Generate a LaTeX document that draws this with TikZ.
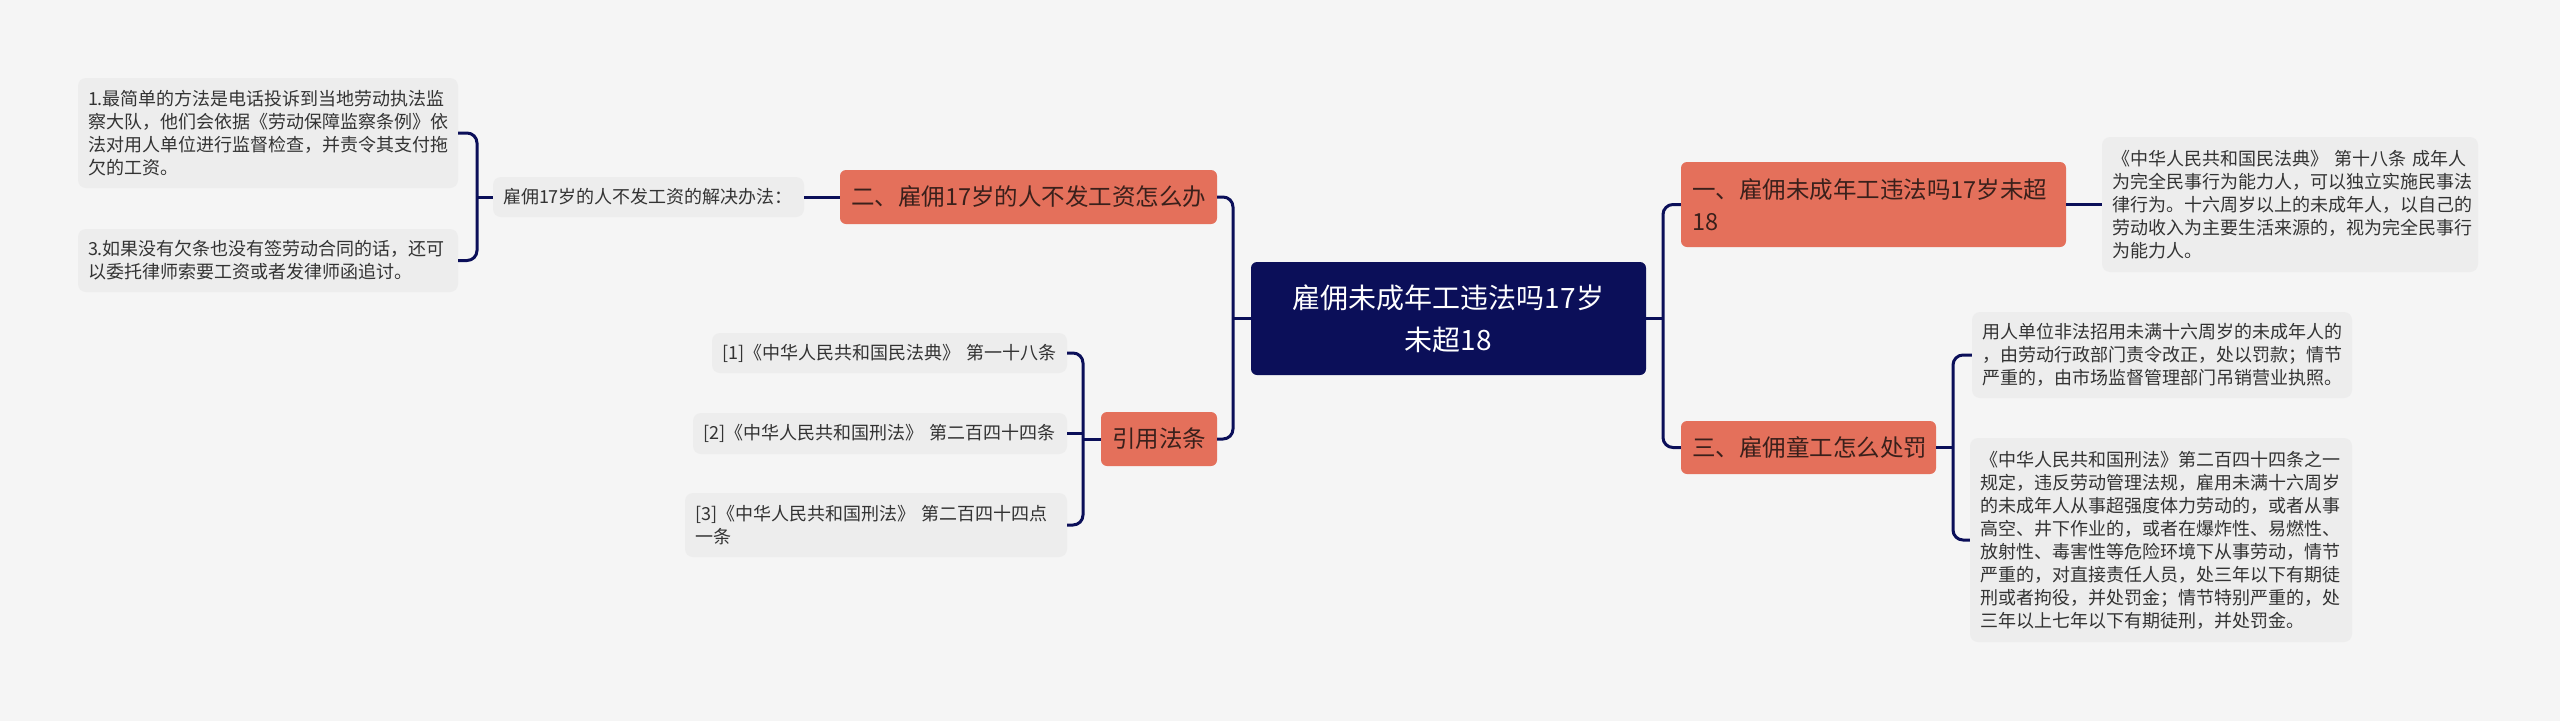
\documentclass[tikz,border=0pt]{standalone}
\usepackage{fontspec}
\setmainfont{Noto Sans CJK SC}
\definecolor{bgc}{HTML}{F5F5F5}
\definecolor{navy}{HTML}{0B0F59}
\definecolor{orangec}{HTML}{E4705B}
\definecolor{leafbg}{HTML}{EDEDED}
\definecolor{leaftext}{HTML}{333333}
\definecolor{branchtext}{HTML}{3A201B}
\begin{document}
\begin{tikzpicture}[x=1pt,y=-1pt,
  conn/.style={draw=navy, line width=3pt, rounded corners=10pt},
  leaf/.style={fill=leafbg, rounded corners=8pt, text=leaftext, font=\fontsize{18pt}{23pt}\selectfont, align=left, inner xsep=10pt, inner ysep=0pt},
  branch/.style={fill=orangec, rounded corners=6pt, text=branchtext, font=\fontsize{23.5pt}{32pt}\selectfont, align=left, inner xsep=11pt, inner ysep=0pt},
  root/.style={fill=navy, rounded corners=6pt, text=white, font=\fontsize{28pt}{42pt}\selectfont, align=center, inner sep=0pt}]
\fill[bgc] (0,0) rectangle (2560,721);
\useasboundingbox (0,0) rectangle (2560,721);

% root
\node[root, minimum width=395pt, minimum height=113pt] (c) at (1448.5,318.5) {雇佣未成年工违法吗17岁\\未超18};

% branches
\node[branch, minimum width=385pt, minimum height=85pt, text width=363pt] (b1) at (1873.5,204.5) {一、雇佣未成年工违法吗17岁未超\\18};
\node[branch, minimum width=377pt, minimum height=54pt, text width=355pt] (b2) at (1028.5,197) {二、雇佣17岁的人不发工资怎么办};
\node[branch, minimum width=255pt, minimum height=53pt, text width=233pt] (b3) at (1808.5,447.5) {三、雇佣童工怎么处罚};
\node[branch, minimum width=116pt, minimum height=54pt, text width=94pt] (b4) at (1159,439) {引用法条};

% left leaves
\node[leaf, minimum height=40pt, text width=291pt] (l1) at (648.5,197) {雇佣17岁的人不发工资的解决办法：};
\node[leaf, minimum height=110pt, text width=360pt] (l11) at (268,133) {1.最简单的方法是电话投诉到当地劳动执法监\\察大队，他们会依据《劳动保障监察条例》依\\法对用人单位进行监督检查，并责令其支付拖\\欠的工资。};
\node[leaf, minimum height=63pt, text width=360pt] (l12) at (268,260.5) {3.如果没有欠条也没有签劳动合同的话，还可\\以委托律师索要工资或者发律师函追讨。};

\node[leaf, minimum height=40pt, text width=335pt] (c1) at (889.5,353) {[1]《中华人民共和国民法典》 第一十八条};
\node[leaf, minimum height=41pt, text width=354pt] (c2) at (880,433.5) {[2]《中华人民共和国刑法》 第二百四十四条};
\node[leaf, minimum height=64pt, text width=362pt] (c3) at (876,525) {[3]《中华人民共和国刑法》 第二百四十四点\\一条};

% right leaves
\node[leaf, minimum height=135pt, text width=356pt] (r1) at (2290,204.5) {《中华人民共和国民法典》 第十八条 成年人\\为完全民事行为能力人，可以独立实施民事法\\律行为。十六周岁以上的未成年人，以自己的\\劳动收入为主要生活来源的，视为完全民事行\\为能力人。};
\node[leaf, minimum height=86pt, text width=360pt] (r31) at (2162,355) {用人单位非法招用未满十六周岁的未成年人的\\，由劳动行政部门责令改正，处以罚款；情节\\严重的，由市场监督管理部门吊销营业执照。};
\node[leaf, minimum height=204pt, text width=362pt] (r32) at (2161,540) {《中华人民共和国刑法》第二百四十四条之一\\规定，违反劳动管理法规，雇用未满十六周岁\\的未成年人从事超强度体力劳动的，或者从事\\高空、井下作业的，或者在爆炸性、易燃性、\\放射性、毒害性等危险环境下从事劳动，情节\\严重的，对直接责任人员，处三年以下有期徒\\刑或者拘役，并处罚金；情节特别严重的，处\\三年以上七年以下有期徒刑，并处罚金。};

% junction coordinates
\coordinate (jL) at (1233,318.5);
\coordinate (jR) at (1663,318.5);
\coordinate (jL1) at (477,197);
\coordinate (jL4) at (1083,439);
\coordinate (jR3) at (1953,447.5);

% connectors
\draw[conn] (c.west) -- (jL);
\draw[conn] (b2.east) -| (jL) |- (b4.east);
\draw[conn] (c.east) -- (jR);
\draw[conn] (b1.west) -| (jR) |- (b3.west);
\draw[conn] (b1.east) -- (r1.west);
\draw[conn] (b3.east) -- (jR3);
\draw[conn] (r31.west) -| (jR3) |- (r32.west);
\draw[conn] (b2.west) -- (l1.east);
\draw[conn] (l1.west) -- (jL1);
\draw[conn] (l11.east) -| (jL1) |- (l12.east);
\draw[conn] (b4.west) -- (jL4);
\draw[conn] (c1.east) -| (jL4) |- (c3.east);
\draw[conn] (c2.east) -- (c2.east -| jL4);
\end{tikzpicture}
\end{document}
